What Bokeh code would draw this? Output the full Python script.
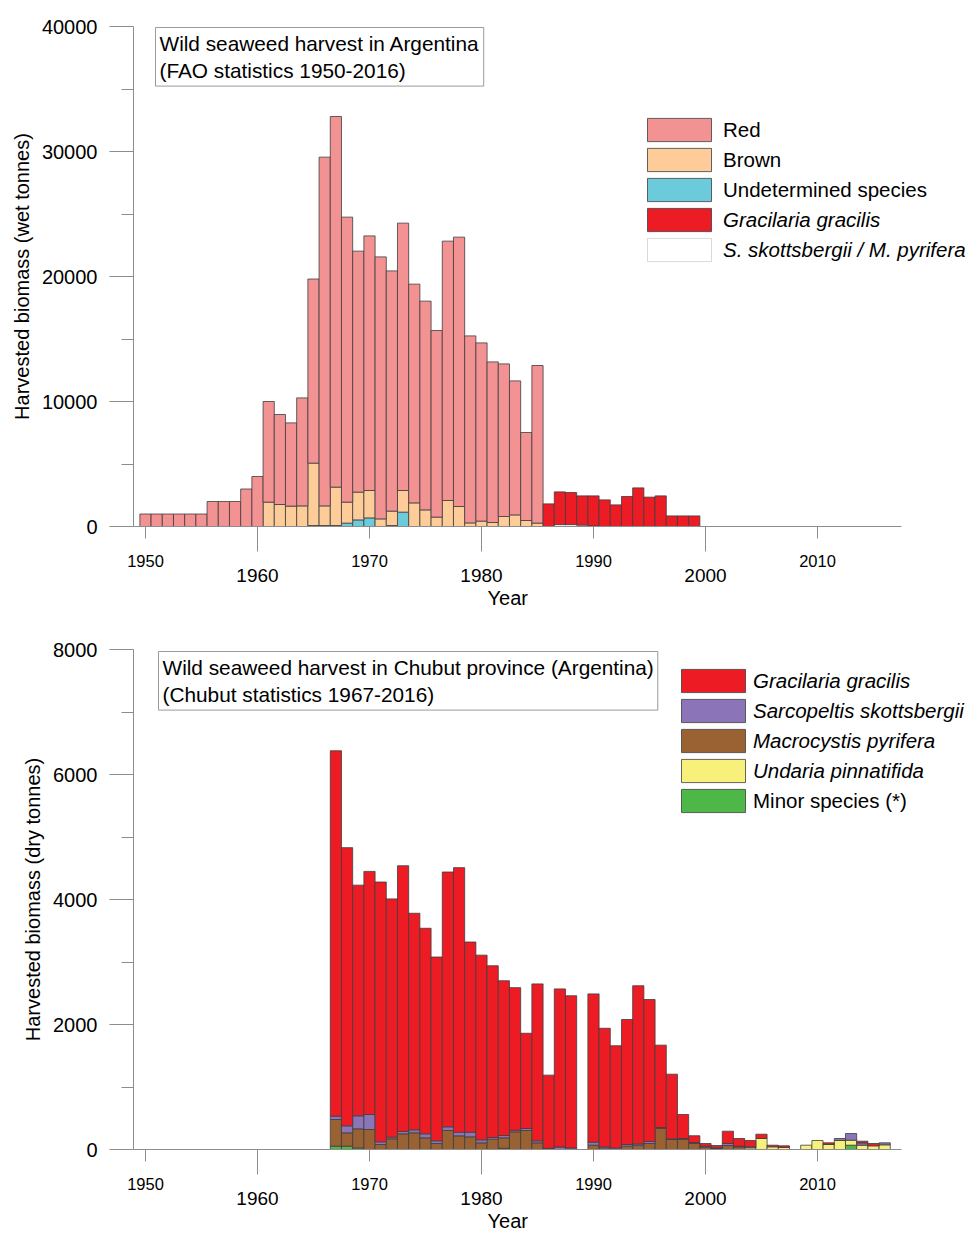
import numpy as np
from bokeh.plotting import figure
from bokeh.models import Range1d, FixedTicker, LinearAxis, Legend, LegendItem, Label, Title
from bokeh.layouts import column
from bokeh.embed import file_html
from bokeh.resources import INLINE

FONT = "Liberation Sans"
GREY = "#8c8c8c"
EDGE = "#3d3d3d"

# ---------------- Top chart: FAO statistics (wet tonnes) ----------------
fao_years = list(range(1950, 2000))
fao_undetermined = [0, 0, 0, 0, 0, 0, 0, 0, 0, 0,
                    0, 0, 0, 0, 0, 80, 80, 80, 270, 530,
                    690, 0, 80, 1150, 0, 0, 0, 0, 0, 0,
                    0, 0, 0, 0, 0, 0, 0, 0, 0, 0,
                    0, 0, 0, 0, 0, 0, 0, 0, 0, 0]
fao_brown = [0, 0, 0, 0, 0, 0, 0, 0, 0, 0,
             0, 1950, 1760, 1630, 1650, 4990, 1570, 3070, 1680, 2220,
             2190, 610, 1150, 1730, 1890, 1330, 750, 2080, 1600, 290,
             430, 320, 800, 930, 480, 270, 0, 0, 0, 0,
             0, 0, 0, 0, 0, 0, 0, 0, 0, 0]
fao_red = [1000, 1000, 1000, 1000, 1000, 1000, 2000, 2000, 2000, 3000,
           4000, 8050, 7200, 6660, 8640, 14730, 27900, 29650, 22800, 19280,
           20370, 20960, 19220, 21390, 17500, 16700, 14930, 20750, 21550, 14960,
           14260, 12850, 12210, 10720, 7040, 12610, 0, 0, 0, 0,
           0, 0, 0, 0, 0, 0, 0, 0, 0, 0]
fao_skotts_pyrifera = [0] * 37 + [150, 150, 100, 50] + [0] * 9
fao_gracilaria = [0] * 36 + [1810, 2620, 2570, 2350, 2400, 2130, 1730, 2400,
                             3090, 2350, 2450, 850, 850, 850]

# ---------------- Bottom chart: Chubut statistics (dry tonnes) ----------------
chubut_years = list(range(1967, 2017))
chubut_minor = [53, 53, 25, 0, 0, 0, 0, 0, 0, 0,
                0, 0, 0, 0, 0, 20, 0, 0, 0, 0,
                0, 0, 0, 0, 0, 0, 0, 0, 0, 0,
                0, 0, 0, 0, 0, 0, 0, 0, 0, 0,
                0, 0, 0, 0, 0, 0, 69, 0, 0, 0]
chubut_macrocystis = [427, 214, 306, 320, 80, 171, 251, 267, 187, 96,
                      304, 219, 203, 107, 165, 167, 283, 304, 107, 0,
                      0, 0, 0, 69, 10, 0, 53, 69, 96, 336,
                      160, 160, 96, 37, 16, 64, 43, 0, 0, 0,
                      0, 0, 0, 0, 0, 0, 0, 0, 0, 0]
chubut_undaria = [0] * 37 + [27, 176, 43, 32, 0, 69, 144, 80, 144, 80, 69, 59, 75]
chubut_sarcopeltis = [53, 112, 208, 240, 43, 26, 37, 48, 64, 43,
                      59, 58, 74, 48, 27, 37, 26, 32, 32, 20,
                      40, 25, 0, 48, 30, 25, 27, 22, 32, 16,
                      11, 16, 16, 16, 11, 32, 10, 16, 0, 0,
                      0, 0, 0, 0, 0, 32, 107, 37, 0, 32]
chubut_gracilaria = [5847, 4451, 3691, 3890, 4157, 3813, 4252, 3465, 3289, 2941,
                     4077, 4233, 3043, 2955, 2748, 2476, 2281, 1524, 2511, 1170,
                     2530, 2435, 0, 2373, 1900, 1635, 2000, 2529, 2272, 1318,
                     1034, 384, 108, 43, 37, 197, 123, 101, 69, 26,
                     27, 0, 0, 0, 27, 0, 0, 27, 37, 0]

small_year_ticks = [1950, 1970, 1990, 2010]
big_year_ticks = [1960, 1980, 2000]

X_START = 1948.93
X_AXIS_END = 2017.5
X_VIEW_END = 2023.93


def stacked(p, years, series, colors, line_colors):
    yrs = np.array(years, dtype=float)
    base = np.zeros(len(yrs))
    rends = []
    for vals, col, lc in zip(series, colors, line_colors):
        v = np.array(vals, dtype=float)
        m = v > 0
        r = p.vbar(x=yrs[m], bottom=base[m], top=(base + v)[m], width=1,
                   fill_color=col, line_color=lc, line_width=0.8)
        rends.append(r)
        base = base + v
    return rends


def make_fig(ymax, ymajor, yminor, ylabel, border_top, year_standoff):
    p = figure(frame_width=840, frame_height=500,
               x_range=Range1d(X_START, X_VIEW_END), y_range=Range1d(0, ymax),
               output_backend="svg", toolbar_location=None,
               x_axis_location=None, y_axis_location=None,
               min_border_left=133, min_border_right=0,
               min_border_top=border_top, min_border_bottom=0)
    p.outline_line_color = None
    p.xgrid.grid_line_color = None
    p.ygrid.grid_line_color = None
    p.background_fill_color = "white"

    ya = LinearAxis(ticker=FixedTicker(ticks=ymajor, minor_ticks=yminor),
                    axis_label=ylabel)
    ya.axis_line_color = GREY
    ya.major_tick_line_color = GREY
    ya.minor_tick_line_color = GREY
    ya.major_tick_out = 24
    ya.major_tick_in = 0
    ya.minor_tick_out = 12
    ya.minor_tick_in = 0
    ya.major_label_text_font = FONT
    ya.major_label_text_font_size = "20px"
    ya.major_label_text_color = "black"
    ya.major_label_standoff = 12
    ya.axis_label_text_font = FONT
    ya.axis_label_text_font_size = "20px"
    ya.axis_label_text_font_style = "normal"
    ya.axis_label_text_color = "black"
    ya.axis_label_standoff = 6
    p.add_layout(ya, "left")

    xa1 = LinearAxis(ticker=FixedTicker(ticks=small_year_ticks, minor_ticks=big_year_ticks),
                     bounds=(X_START, X_AXIS_END))
    xa1.axis_line_color = GREY
    xa1.major_tick_line_color = GREY
    xa1.minor_tick_line_color = GREY
    xa1.major_tick_out = 12
    xa1.major_tick_in = 0
    xa1.minor_tick_out = 25
    xa1.minor_tick_in = 0
    xa1.major_label_text_font = FONT
    xa1.major_label_text_font_size = "16.5px"
    xa1.major_label_text_color = "black"
    xa1.major_label_standoff = 3
    p.add_layout(xa1, "below")

    xa2 = LinearAxis(ticker=FixedTicker(ticks=big_year_ticks, minor_ticks=[]),
                     bounds=(X_START, X_AXIS_END))
    xa2.axis_line_color = None
    xa2.major_tick_line_color = None
    xa2.minor_tick_line_color = None
    xa2.major_tick_out = 0
    xa2.major_tick_in = 0
    xa2.minor_tick_out = 0
    xa2.minor_tick_in = 0
    xa2.major_label_text_font = FONT
    xa2.major_label_text_font_size = "19px"
    xa2.major_label_text_color = "black"
    xa2.major_label_standoff = -1
    p.add_layout(xa2, "below")

    yt = Title(text="Year", align="left", offset=354, standoff=year_standoff,
               text_font=FONT, text_font_size="20px", text_font_style="normal",
               text_color="black")
    p.add_layout(yt, "below")
    return p


def make_legend(items, x, y, style, standoff):
    lg = Legend(items=items, location=(x, y), orientation="vertical",
                glyph_width=80, glyph_height=29, spacing=1, label_standoff=standoff,
                padding=0, margin=0, border_line_color=None,
                background_fill_alpha=0, label_height=29,
                label_text_font=FONT, label_text_font_size="20.5px",
                label_text_font_style=style, label_text_color="black")
    return lg


def title_box(p, text, x, y):
    lab = Label(x=x, y=y, x_units="screen", y_units="screen", text=text,
                text_font=FONT, text_font_size="20.8px", text_color="black",
                text_align="left", text_baseline="top",
                border_line_color="#9a9a9a", border_line_width=1,
                background_fill_color="white", padding=4)
    p.add_layout(lab)


# ---------- top figure ----------
p1 = make_fig(40000, [0, 10000, 20000, 30000, 40000], [5000, 15000, 25000, 35000],
              "Harvested biomass (wet tonnes)", 26, 0)
r_und, r_brown, r_red, r_white, r_grac = stacked(
    p1, fao_years,
    [fao_undetermined, fao_brown, fao_red, fao_skotts_pyrifera, fao_gracilaria],
    ["#6BCBDB", "#FDCC99", "#F39293", "#FFFFFF", "#ED1C24"],
    [EDGE, EDGE, EDGE, "#cfcfcf", EDGE])
title_box(p1, "Wild seaweed harvest in Argentina\n(FAO statistics 1950-2016)", 22, 499)
lg1a = make_legend([LegendItem(label="Red", renderers=[r_red]),
                    LegendItem(label="Brown", renderers=[r_brown]),
                    LegendItem(label="Undetermined species", renderers=[r_und])],
                   506, 322, "normal", 4)
lg1b = make_legend([LegendItem(label="Gracilaria gracilis", renderers=[r_grac]),
                    LegendItem(label="S. skottsbergii / M. pyrifera", renderers=[r_white])],
                   506, 262, "italic", 4)
p1.add_layout(lg1a)
p1.add_layout(lg1b)

# ---------- bottom figure ----------
p2 = make_fig(8000, [0, 2000, 4000, 6000, 8000], [1000, 3000, 5000, 7000],
              "Harvested biomass (dry tonnes)", 41, 0)
b_minor, b_macro, b_und, b_sarc, b_grac = stacked(
    p2, chubut_years,
    [chubut_minor, chubut_macrocystis, chubut_undaria, chubut_sarcopeltis, chubut_gracilaria],
    ["#4DB748", "#9A6232", "#F7F07A", "#8B74B8", "#ED1C24"],
    [EDGE] * 5)
title_box(p2, "Wild seaweed harvest in Chubut province (Argentina)\n(Chubut statistics 1967-2016)", 25, 498)
lg2a = make_legend([LegendItem(label="Gracilaria gracilis", renderers=[b_grac]),
                    LegendItem(label="Sarcopeltis skottsbergii", renderers=[b_sarc]),
                    LegendItem(label="Macrocystis pyrifera", renderers=[b_macro]),
                    LegendItem(label="Undaria pinnatifida", renderers=[b_und])],
                   540, 364, "italic", 0)
lg2b = make_legend([LegendItem(label="Minor species (*)", renderers=[b_minor])],
                   540, 334, "normal", 0)
p2.add_layout(lg2a)
p2.add_layout(lg2b)

layout = column(p1, p2, spacing=0)
open("out.html", "w").write(file_html(layout, INLINE))
